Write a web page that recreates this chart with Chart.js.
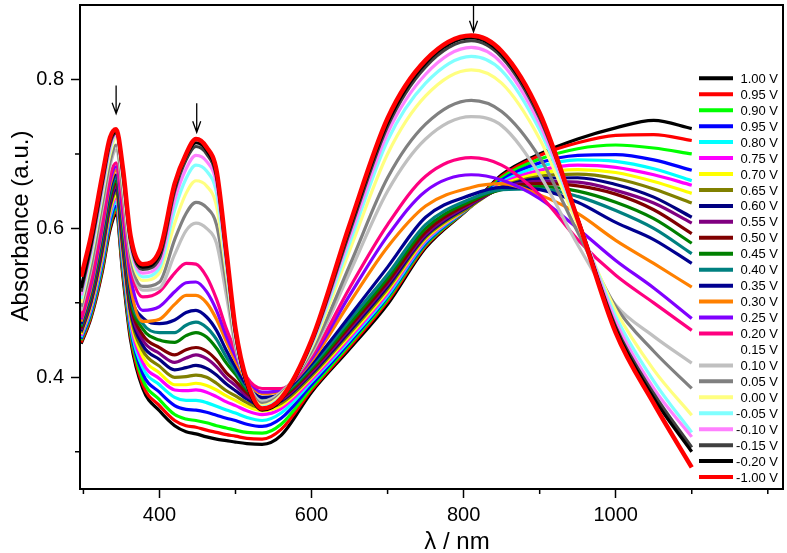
<!DOCTYPE html>
<html lang="en">
<head>
<meta charset="UTF-8">
<title>Absorbance vs wavelength at different potentials</title>
<script src="https://cdn.jsdelivr.net/npm/chart.js"></script>
<style>
  html, body { margin: 0; padding: 0; background: #fff; }
</style>
</head>
<body>
<canvas id="spectra" width="787" height="553"></canvas>
<script>
// wavelength grid (nm)
const wavelengths = [297, 310, 325, 335, 343, 352, 362, 378, 400, 420, 435, 448, 462, 475, 488, 500, 515, 535, 560, 600, 650, 700, 750, 810, 850, 900, 950, 1000, 1050, 1100];

const v100  = [.445,.48,.543,.598,.618,.535,.45,.385,.355,.335,.327,.324,.32,.317,.315,.313,.311,.31,.322,.38,.438,.498,.574,.63,.672,.70,.72,.735,.745,.734];
const v095  = [.447,.482,.546,.602,.622,.54,.455,.39,.362,.342,.335,.333,.329,.326,.323,.321,.318,.317,.33,.383,.441,.502,.576,.63,.67,.698,.715,.725,.726,.718];
const v090  = [.45,.485,.55,.606,.626,.545,.46,.397,.37,.35,.344,.342,.339,.335,.332,.329,.326,.325,.337,.386,.444,.505,.578,.63,.668,.693,.707,.712,.708,.70];
const v095b = [.452,.488,.554,.61,.63,.55,.465,.405,.38,.362,.357,.356,.353,.349,.345,.342,.337,.334,.345,.39,.447,.508,.58,.63,.665,.688,.698,.699,.692,.678];
const v080  = [.454,.491,.558,.615,.635,.555,.47,.413,.39,.373,.369,.369,.366,.361,.356,.352,.346,.342,.352,.394,.45,.51,.582,.63,.662,.683,.692,.69,.68,.664];
const v075  = [.456,.494,.562,.62,.64,.56,.475,.42,.398,.383,.382,.383,.38,.374,.367,.362,.355,.35,.358,.397,.453,.513,.584,.63,.66,.678,.685,.682,.672,.658];
const v070  = [.458,.497,.566,.624,.644,.565,.48,.428,.406,.39,.39,.392,.389,.383,.375,.369,.361,.355,.362,.40,.456,.516,.586,.63,.658,.674,.679,.675,.663,.647];
const v065  = [.46,.50,.57,.628,.648,.57,.485,.436,.415,.40,.401,.403,.40,.392,.382,.375,.366,.359,.365,.402,.459,.519,.588,.63,.656,.67,.673,.667,.653,.634];
const v060  = [.462,.502,.574,.632,.652,.575,.49,.443,.424,.41,.413,.416,.412,.403,.391,.382,.371,.362,.368,.405,.462,.522,.59,.632,.655,.667,.668,.659,.642,.615];
const v055  = [.464,.505,.578,.636,.656,.58,.495,.45,.432,.42,.426,.43,.425,.414,.399,.389,.375,.364,.37,.407,.465,.525,.592,.633,.654,.663,.662,.651,.634,.607];
const v050  = [.466,.508,.582,.64,.66,.586,.50,.457,.44,.43,.437,.44,.435,.423,.406,.395,.379,.366,.372,.41,.468,.528,.595,.635,.653,.66,.657,.646,.625,.593];
const v045  = [.468,.511,.586,.644,.664,.592,.505,.465,.45,.447,.456,.46,.454,.439,.419,.404,.383,.369,.374,.412,.472,.533,.60,.637,.652,.656,.65,.635,.613,.58];
const v040  = [.47,.514,.59,.648,.668,.598,.51,.472,.46,.46,.47,.474,.467,.451,.427,.409,.386,.371,.376,.415,.477,.538,.605,.64,.652,.653,.643,.624,.60,.566];
const v035  = [.472,.517,.595,.653,.672,.605,.515,.48,.472,.477,.487,.49,.481,.463,.436,.414,.389,.373,.378,.418,.482,.548,.615,.645,.655,.652,.635,.608,.585,.553];
const v030  = [.475,.52,.60,.658,.678,.612,.522,.475,.478,.498,.51,.51,.50,.478,.448,.422,.395,.378,.382,.422,.50,.575,.63,.655,.66,.645,.62,.584,.553,.521];
const v025  = [.478,.525,.605,.664,.683,.62,.535,.49,.495,.515,.527,.528,.515,.49,.455,.428,.398,.38,.383,.425,.51,.59,.65,.672,.665,.64,.60,.557,.52,.479];
const v020  = [.48,.53,.61,.67,.688,.63,.548,.508,.515,.54,.553,.552,.535,.505,.465,.435,.40,.385,.385,.428,.52,.605,.67,.695,.685,.645,.585,.537,.50,.463];
const v010  = [.49,.545,.628,.684,.705,.645,.558,.517,.52,.565,.597,.607,.60,.58,.51,.44,.394,.368,.38,.432,.54,.65,.72,.75,.738,.672,.578,.497,.455,.419];
const v005  = [.495,.55,.635,.69,.712,.65,.562,.522,.528,.585,.62,.635,.628,.605,.525,.445,.393,.365,.378,.435,.55,.668,.74,.772,.757,.695,.595,.495,.435,.385];
const v000  = [.50,.56,.645,.70,.722,.66,.57,.53,.54,.607,.647,.664,.657,.63,.54,.45,.392,.362,.376,.44,.57,.70,.778,.813,.795,.72,.605,.49,.41,.349];
const vm005 = [.505,.565,.65,.706,.725,.665,.575,.535,.547,.625,.667,.685,.677,.648,.548,.452,.39,.36,.374,.443,.58,.718,.795,.831,.812,.732,.61,.482,.395,.326];
const vm010 = [.51,.57,.655,.71,.726,.668,.578,.54,.553,.638,.68,.698,.69,.66,.555,.455,.39,.358,.372,.445,.588,.728,.807,.843,.822,.74,.612,.475,.385,.32];
const vm015 = [.515,.575,.66,.714,.728,.672,.582,.545,.56,.65,.692,.71,.70,.668,.56,.458,.39,.357,.37,.446,.595,.737,.817,.852,.83,.748,.613,.468,.378,.306];
const vm020 = [.52,.58,.665,.718,.73,.675,.585,.548,.565,.655,.697,.715,.705,.672,.565,.46,.39,.356,.37,.448,.60,.742,.822,.856,.834,.752,.613,.465,.372,.30];
const vm100 = [.535,.59,.672,.722,.733,.68,.59,.552,.57,.66,.70,.72,.709,.678,.57,.465,.395,.358,.372,.45,.605,.748,.826,.859,.838,.755,.612,.46,.365,.279];

// legend entries, top to bottom (0.15 V has no trace)
const potentials = ["1.00 V","0.95 V","0.90 V","0.95 V","0.80 V","0.75 V","0.70 V","0.65 V","0.60 V","0.55 V","0.50 V","0.45 V","0.40 V","0.35 V","0.30 V","0.25 V","0.20 V","0.15 V","0.10 V","0.05 V","0.00 V","-0.05 V","-0.10 V","-0.15 V","-0.20 V","-1.00 V"];
const seriesValues = [v100,v095,v090,v095b,v080,v075,v070,v065,v060,v055,v050,v045,v040,v035,v030,v025,v020,null,v010,v005,v000,vm005,vm010,vm015,vm020,vm100];
const lineColors = ["#000000","#ff0000","#00ff00","#0000ff","#00ffff","#ff00ff","#ffff00","#808000","#000080","#800080","#800000","#008000","#008080","#000090","#ff8000","#8000ff","#ff0080",null,"#c0c0c0","#808080","#ffff80","#80ffff","#ff80ff","#404040","#000000","#ff0000"];

// arrows marking the growing bands (nm, absorbance from -> to)
const arrows = [
  { x: 343, from: 0.792, to: 0.754 },
  { x: 449, from: 0.768, to: 0.729 },
  { x: 813, from: 0.899, to: 0.864 }
];

const xTicks = [300, 400, 500, 600, 700, 800, 900, 1000, 1100, 1200];
const xLabelled = [400, 600, 800, 1000];
const yTicks = [0.3, 0.4, 0.5, 0.6, 0.7, 0.8];
const yLabelled = [0.4, 0.6, 0.8];

const FONT = 'Arial, "Liberation Sans", sans-serif';

const datasets = [];
seriesValues.forEach((vals, i) => {
  if (!vals) return;
  datasets.push({
    label: potentials[i],
    data: wavelengths.map((w, k) => ({ x: w, y: vals[k] })),
    borderColor: lineColors[i],
    borderWidth: i === seriesValues.length - 1 ? 4.5 : 3.2,
    pointRadius: 0,
    cubicInterpolationMode: 'monotone',
    order: seriesValues.length - i
  });
});

const isLabelled = (list, v) => list.some(t => Math.abs(t - v) < 1e-6);

// scales reserve half a label above/below the plot; the reference plot has none
const noEdgePadding = s => {
  s.paddingTop = 0; s.paddingBottom = 0;
  s.paddingLeft = 0; s.paddingRight = 0;
};

const overlay = {
  id: 'overlay',
  afterDraw(chart) {
    const { ctx, chartArea: a, scales: { x, y } } = chart;
    ctx.save();

    // frame
    ctx.strokeStyle = '#000';
    ctx.lineWidth = 2;
    ctx.strokeRect(a.left, a.top, a.right - a.left, a.bottom - a.top);

    // minor ticks
    ctx.lineWidth = 1.5;
    ctx.beginPath();
    xTicks.filter(t => !isLabelled(xLabelled, t)).forEach(t => {
      const px = x.getPixelForValue(t);
      ctx.moveTo(px, a.bottom); ctx.lineTo(px, a.bottom + 5);
    });
    yTicks.filter(t => !isLabelled(yLabelled, t)).forEach(t => {
      const py = y.getPixelForValue(t);
      ctx.moveTo(a.left, py); ctx.lineTo(a.left - 5, py);
    });
    ctx.stroke();

    // arrows
    ctx.lineWidth = 1.3;
    arrows.forEach(ar => {
      const px = x.getPixelForValue(ar.x);
      const p0 = y.getPixelForValue(ar.from);
      const p1 = y.getPixelForValue(ar.to);
      ctx.beginPath();
      ctx.moveTo(px, p0); ctx.lineTo(px, p1);
      ctx.moveTo(px - 4, p1 - 11); ctx.lineTo(px, p1); ctx.lineTo(px + 4, p1 - 11);
      ctx.stroke();
    });

    // legend
    ctx.font = '13px ' + FONT;
    ctx.textAlign = 'right';
    ctx.textBaseline = 'middle';
    potentials.forEach((lab, i) => {
      const ry = a.top + 73.3 + i * 15.95;
      if (lineColors[i]) {
        ctx.strokeStyle = lineColors[i];
        ctx.lineWidth = 4;
        ctx.beginPath();
        ctx.moveTo(a.right - 84, ry); ctx.lineTo(a.right - 50, ry);
        ctx.stroke();
      }
      ctx.fillStyle = '#000';
      ctx.fillText(lab, a.right - 5, ry + 1);
    });

    // axis titles
    ctx.fillStyle = '#000';
    ctx.font = '24px ' + FONT;
    ctx.textAlign = 'center';
    ctx.textBaseline = 'alphabetic';
    ctx.fillText('λ / nm', 457, 549);
    ctx.translate(28, 226);
    ctx.rotate(-Math.PI / 2);
    ctx.fillText('Absorbance (a.u.)', 0, 0);
    ctx.restore();
  }
};

new Chart(document.getElementById('spectra'), {
  type: 'line',
  data: { datasets },
  options: {
    responsive: false,
    animation: false,
    layout: { padding: { left: 0, right: 4, top: 5, bottom: 0 } },
    plugins: { legend: { display: false }, tooltip: { enabled: false } },
    scales: {
      x: {
        type: 'linear',
        min: 295.5,
        max: 1220,
        afterBuildTicks: s => { s.ticks = xTicks.map(v => ({ value: v })); },
        afterFit: s => { s.height = 64; noEdgePadding(s); },
        ticks: {
          autoSkip: false,
          maxRotation: 0,
          padding: 5,
          color: '#000',
          font: { family: FONT, size: 20 },
          callback: v => isLabelled(xLabelled, v) ? String(v) : ''
        },
        grid: {
          drawOnChartArea: false,
          tickLength: 9,
          tickWidth: 1.5,
          tickColor: c => isLabelled(xLabelled, c.tick.value) ? '#000' : 'rgba(0,0,0,0)'
        },
        border: { display: true, color: '#000', width: 2 }
      },
      y: {
        min: 0.25,
        max: 0.9,
        afterBuildTicks: s => { s.ticks = yTicks.map(v => ({ value: v })); },
        afterFit: s => { s.width = 80; noEdgePadding(s); },
        ticks: {
          autoSkip: false,
          padding: 7,
          color: '#000',
          font: { family: FONT, size: 20 },
          callback: v => isLabelled(yLabelled, v) ? v.toFixed(1) : ''
        },
        grid: {
          drawOnChartArea: false,
          tickLength: 9,
          tickWidth: 1.5,
          tickColor: c => isLabelled(yLabelled, c.tick.value) ? '#000' : 'rgba(0,0,0,0)'
        },
        border: { display: true, color: '#000', width: 2 }
      }
    }
  },
  plugins: [overlay]
});
</script>
</body>
</html>
